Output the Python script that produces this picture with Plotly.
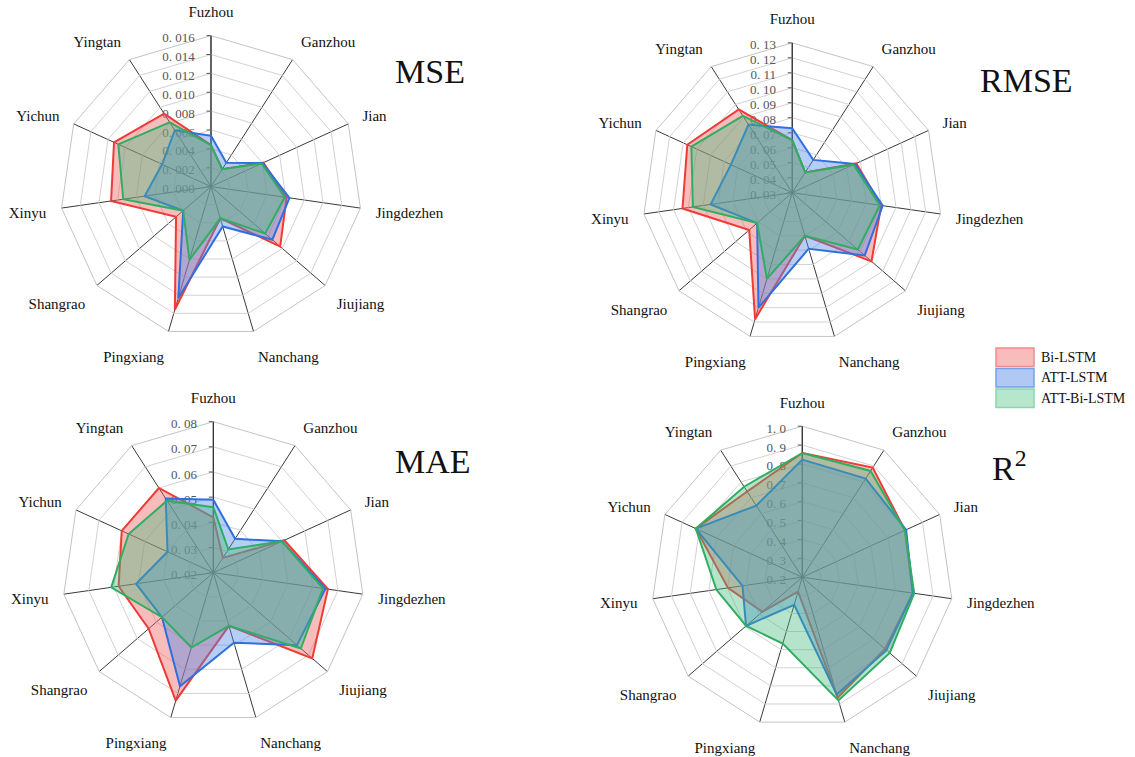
import plotly.graph_objects as go

# Cities around each radar, clockwise from the top
cities = ["Fuzhou", "Ganzhou", "Jian", "Jingdezhen", "Jiujiang", "Nanchang",
          "Pingxiang", "Shangrao", "Xinyu", "Yichun", "Yingtan"]

models = ["Bi-LSTM", "ATT-LSTM", "ATT-Bi-LSTM"]

# MSE per city
mse_bi_lstm = [0.0044, 0.0022, 0.0061, 0.0081, 0.0097, 0.0035, 0.0136, 0.0049, 0.0107, 0.0113, 0.0092]
mse_att_lstm = [0.0054, 0.0030, 0.0060, 0.0084, 0.0086, 0.0044, 0.0123, 0.0039, 0.0071, 0.0057, 0.0071]
mse_att_bi_lstm = [0.0044, 0.0022, 0.0059, 0.0079, 0.0076, 0.0035, 0.0081, 0.0039, 0.0094, 0.0108, 0.0081]

# RMSE per city
rmse_bi_lstm = [0.065, 0.046, 0.077, 0.090, 0.100, 0.060, 0.118, 0.068, 0.104, 0.107, 0.096]
rmse_att_lstm = [0.073, 0.056, 0.076, 0.091, 0.094, 0.069, 0.110, 0.061, 0.085, 0.075, 0.084]
rmse_att_bi_lstm = [0.065, 0.046, 0.075, 0.089, 0.088, 0.060, 0.090, 0.061, 0.097, 0.104, 0.091]

# MAE per city
mae_bi_lstm = [0.042, 0.027, 0.051, 0.066, 0.072, 0.042, 0.073, 0.054, 0.058, 0.060, 0.060]
mae_att_lstm = [0.049, 0.036, 0.050, 0.065, 0.064, 0.049, 0.067, 0.047, 0.051, 0.040, 0.055]
mae_att_bi_lstm = [0.046, 0.031, 0.050, 0.064, 0.066, 0.042, 0.051, 0.047, 0.061, 0.057, 0.054]

# R^2 per city
r2_bi_lstm = [0.858, 0.890, 0.798, 0.792, 0.780, 0.865, 0.280, 0.480, 0.598, 0.820, 0.740]
r2_att_lstm = [0.823, 0.821, 0.805, 0.792, 0.790, 0.848, 0.352, 0.594, 0.520, 0.820, 0.651]
r2_att_bi_lstm = [0.858, 0.869, 0.798, 0.799, 0.813, 0.880, 0.566, 0.594, 0.660, 0.820, 0.770]

# Radial tick values and their printed labels
mse_ticks = [0.000, 0.002, 0.004, 0.006, 0.008, 0.010, 0.012, 0.014, 0.016]
mse_labels = ["0. 000", "0. 002", "0. 004", "0. 006", "0. 008", "0. 010", "0. 012", "0. 014", "0. 016"]
rmse_ticks = [0.03, 0.04, 0.05, 0.06, 0.07, 0.08, 0.09, 0.10, 0.11, 0.12, 0.13]
rmse_labels = ["0. 03", "0. 04", "0. 05", "0. 06", "0. 07", "0. 08", "0. 09", "0. 10", "0. 11", "0. 12", "0. 13"]
mae_ticks = [0.02, 0.03, 0.04, 0.05, 0.06, 0.07, 0.08]
mae_labels = ["0. 02", "0. 03", "0. 04", "0. 05", "0. 06", "0. 07", "0. 08"]
r2_ticks = [0.2, 0.3, 0.4, 0.5, 0.6, 0.7, 0.8, 0.9, 1.0]
r2_labels = ["0. 2", "0. 3", "0. 4", "0. 5", "0. 6", "0. 7", "0. 8", "0. 9", "1. 0"]

line_colors = ["#ee3b36", "#2f6fe0", "#2fae62"]
fill_colors = ["rgba(240,95,95,0.42)", "rgba(80,135,230,0.42)", "rgba(70,185,125,0.40)"]
swatch_fills = ["#f8bcbc", "#b0c8f3", "#b6e6cc"]
swatch_edges = ["#f08c8c", "#74a0ea", "#8ad6ad"]

SERIF = "Liberation Serif"

panels = [
    ("polar", [mse_bi_lstm, mse_att_lstm, mse_att_bi_lstm], mse_ticks, mse_labels,
     [0.0529, 0.3189], [0.554, 0.953]),
    ("polar2", [rmse_bi_lstm, rmse_att_lstm, rmse_att_bi_lstm], rmse_ticks, rmse_labels,
     [0.566, 0.830], [0.547, 0.944]),
    ("polar3", [mae_bi_lstm, mae_att_lstm, mae_att_bi_lstm], mae_ticks, mae_labels,
     [0.0549, 0.321], [0.044, 0.443]),
    ("polar4", [r2_bi_lstm, r2_att_lstm, r2_att_bi_lstm], r2_ticks, r2_labels,
     [0.5738, 0.8399], [0.038, 0.437]),
]

fig = go.Figure()
layout_polars = {}
for idx, (name, series, ticks, labels, dx, dy) in enumerate(panels):
    for m, vals in enumerate(series):
        fig.add_trace(go.Scatterpolar(
            r=vals + vals[:1],
            theta=cities + cities[:1],
            mode="lines",
            fill="toself",
            fillcolor=fill_colors[m],
            line=dict(color=line_colors[m], width=2),
            name=models[m],
            showlegend=False,
            subplot=name,
        ))
    layout_polars[name] = dict(
        domain=dict(x=dx, y=dy),
        bgcolor="white",
        gridshape="linear",
        angularaxis=dict(
            rotation=90, direction="clockwise",
            categoryorder="array", categoryarray=cities,
            gridcolor="#3a3a3a", gridwidth=1,
            showline=True, linecolor="#c4c4c4", linewidth=1,
            ticks="outside", ticklen=12, tickcolor="rgba(0,0,0,0)",
            tickfont=dict(family=SERIF, size=15, color="#111"),
            layer="below traces",
        ),
        radialaxis=dict(
            range=[ticks[0], ticks[-1]],
            tickmode="array", tickvals=ticks, ticktext=labels,
            angle=90, side="counterclockwise",
            showline=True, linecolor="#2a2a2a", linewidth=1,
            gridcolor="#d2d2d2", gridwidth=1,
            ticks="outside", ticklen=4, tickcolor="#555",
            tickfont=dict(family=SERIF, size=13, color="#555"),
            layer="below traces",
        ),
    )

fig.update_layout(**layout_polars)

titles = [("MSE", 0.3465, 0.906), ("RMSE", 0.862, 0.894), ("MAE", 0.3465, 0.391), ("R<sup>2</sup>", 0.872, 0.384)]
for text, x, y in titles:
    fig.add_annotation(text=text, x=x, y=y, xref="paper", yref="paper",
                       xanchor="left", yanchor="middle", showarrow=False,
                       font=dict(family=SERIF, size=34, color="#111"))

# Legend: filled swatches stacked in a column with the model names beside them
leg_x0, leg_x1 = 996 / 1135, 1034 / 1135
leg_top, leg_step, leg_h = 1 - 348 / 757, 20.5 / 757, 18.5 / 757
for m, model in enumerate(models):
    top = leg_top - m * leg_step
    fig.add_shape(type="rect", xref="paper", yref="paper",
                  x0=leg_x0, x1=leg_x1, y0=top - leg_h, y1=top,
                  fillcolor=swatch_fills[m], line=dict(color=swatch_edges[m], width=1.5))
    fig.add_annotation(text=model, x=1039 / 1135, y=top - leg_h / 2,
                       xref="paper", yref="paper", xanchor="left", yanchor="middle",
                       showarrow=False, font=dict(family=SERIF, size=14, color="#111"))

fig.update_layout(
    width=1135, height=757,
    margin=dict(l=0, r=0, t=0, b=0),
    paper_bgcolor="white",
    showlegend=False,
)

fig.write_html("out.html")
